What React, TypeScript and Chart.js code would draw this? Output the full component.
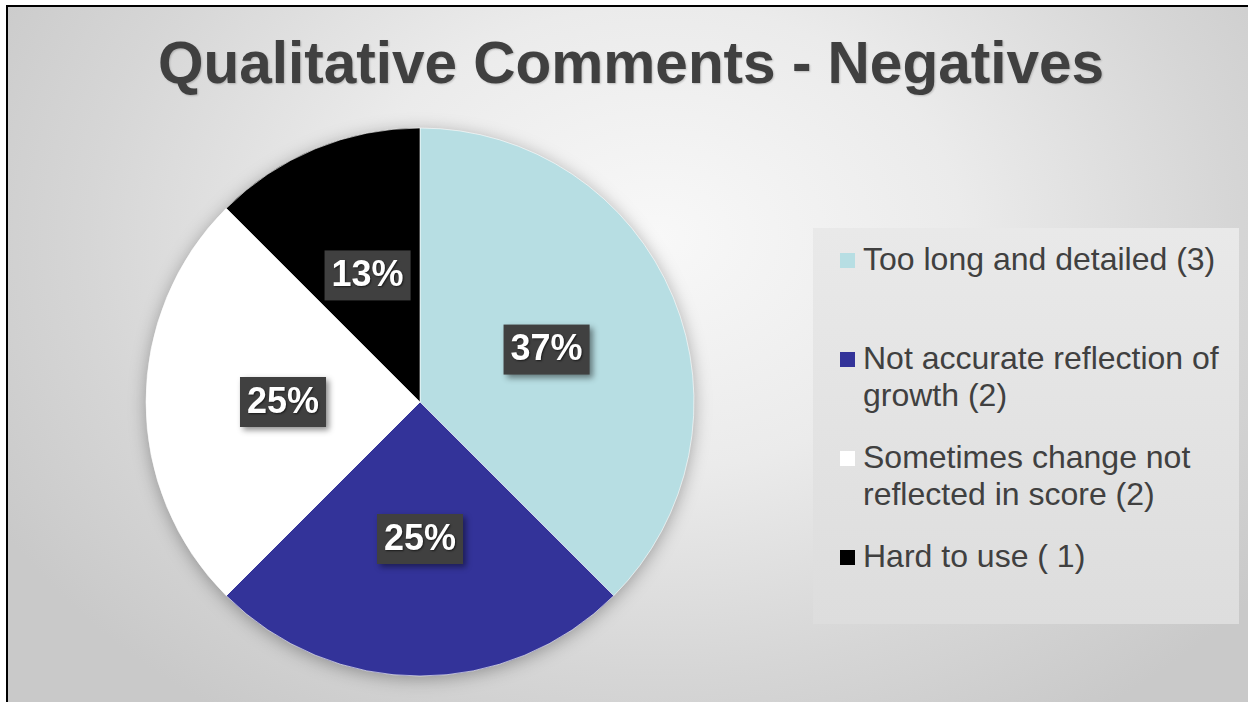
import React, { useEffect, useRef } from "react";
import { Chart, registerables } from "chart.js";

Chart.register(...registerables);

const titleText = "Qualitative Comments - Negatives";
const categories = [
  "Too long and detailed (3)",
  "Not accurate reflection of growth (2)",
  "Sometimes change not reflected in score (2)",
  "Hard to use ( 1)",
];
const counts = [3, 2, 2, 1];
const percentLabels = ["37%", "25%", "25%", "13%"];
const sliceColors = ["#b7dee3", "#333399", "#ffffff", "#000000"];

const FONT = "'Liberation Sans', Arial, Helvetica, sans-serif";

const pieShadow = {
  id: "pieShadow",
  beforeDatasetsDraw(chart: any) {
    const meta = chart.getDatasetMeta(0);
    const arc = meta.data[0];
    if (!arc) return;
    const { x, y, outerRadius } = arc.getProps(["x", "y", "outerRadius"], true);
    const ctx = chart.ctx;
    ctx.save();
    ctx.shadowColor = "rgba(0,0,0,0.35)";
    ctx.shadowBlur = 18;
    ctx.shadowOffsetX = 0;
    ctx.shadowOffsetY = 3;
    ctx.beginPath();
    ctx.arc(x, y, outerRadius - 1, 0, Math.PI * 2);
    ctx.fillStyle = "#ffffff";
    ctx.fill();
    ctx.restore();
  },
};

const boxLabels = {
  id: "boxLabels",
  afterDatasetsDraw(chart: any) {
    const ctx = chart.ctx;
    const meta = chart.getDatasetMeta(0);
    meta.data.forEach((el: any, i: number) => {
      const { x, y, startAngle, endAngle, outerRadius } = el.getProps(
        ["x", "y", "startAngle", "endAngle", "outerRadius"],
        true
      );
      const mid = (startAngle + endAngle) / 2;
      const cx = x + Math.cos(mid) * outerRadius * 0.5;
      const cy = y + Math.sin(mid) * outerRadius * 0.5;
      const text = percentLabels[i];
      ctx.save();
      ctx.font = `bold 36px ${FONT}`;
      const w = ctx.measureText(text).width + 14;
      const h = 50;
      ctx.shadowColor = "rgba(0,0,0,0.45)";
      ctx.shadowBlur = 6;
      ctx.shadowOffsetX = 3;
      ctx.shadowOffsetY = 3;
      ctx.fillStyle = "#404040";
      ctx.fillRect(cx - w / 2, cy - h / 2, w, h);
      ctx.shadowColor = "rgba(0,0,0,0.6)";
      ctx.shadowBlur = 2;
      ctx.shadowOffsetX = 1;
      ctx.shadowOffsetY = 1;
      ctx.fillStyle = "#ffffff";
      ctx.textAlign = "center";
      ctx.textBaseline = "middle";
      ctx.fillText(text, cx, cy + 1);
      ctx.restore();
    });
  },
};

export default function App() {
  const canvasRef = useRef<HTMLCanvasElement | null>(null);

  useEffect(() => {
    if (!canvasRef.current) return;
    const chart = new Chart(canvasRef.current, {
      type: "pie",
      data: {
        labels: categories,
        datasets: [
          {
            data: counts,
            backgroundColor: sliceColors,
            borderColor: "rgba(255,255,255,0.6)",
            borderWidth: 1,
          },
        ],
      },
      options: {
        responsive: false,
        animation: false,
        radius: 274,
        layout: { padding: { left: 100, right: 508, top: 110, bottom: 8 } },
        plugins: {
          legend: { display: false },
          title: { display: false },
          tooltip: { enabled: false },
        },
      } as any,
      plugins: [pieShadow, boxLabels],
    });
    return () => chart.destroy();
  }, []);

  return (
    <div
      style={{
        position: "fixed",
        left: 0,
        top: 0,
        width: 1248,
        height: 702,
        overflow: "hidden",
        background: "#ffffff",
        fontFamily: FONT,
      }}
    >
      <div
        style={{
          position: "absolute",
          left: 6,
          top: 5,
          width: 1260,
          height: 720,
          borderLeft: "2px solid #000",
          borderTop: "2px solid #000",
          background:
            "radial-gradient(ellipse 760px 580px at 650px 230px, #f8f8f8 0%, #ebebeb 40%, #d6d6d6 75%, #c9c9c9 100%)",
        }}
      />
      <div
        style={{
          position: "absolute",
          left: 0,
          top: 34,
          width: 1262,
          textAlign: "center",
          fontSize: 58.5,
          lineHeight: "58px",
          fontWeight: "bold",
          color: "#404040",
          textShadow: "1px 1px 2px rgba(0,0,0,0.2)",
          whiteSpace: "nowrap",
        }}
      >
        {titleText}
      </div>
      <canvas
        ref={canvasRef}
        width={1248}
        height={702}
        style={{ position: "absolute", left: 0, top: 0, width: 1248, height: 702 }}
      />
      <div
        style={{
          position: "absolute",
          left: 813,
          top: 228,
          width: 426,
          height: 396,
          background: "linear-gradient(#e9e9e9, #dddddd)",
        }}
      >
        {categories.map((c, i) => (
          <div key={c} style={{ position: "absolute", left: 0, top: 13 + i * 99, width: 426 }}>
            <div
              style={{
                position: "absolute",
                left: 27,
                top: 12,
                width: 15,
                height: 15,
                background: sliceColors[i],
              }}
            />
            <div
              style={{
                position: "absolute",
                left: 50,
                top: 0,
                width: 372,
                fontSize: 32,
                lineHeight: "37px",
                color: "#404040",
              }}
            >
              {c}
            </div>
          </div>
        ))}
      </div>
    </div>
  );
}
